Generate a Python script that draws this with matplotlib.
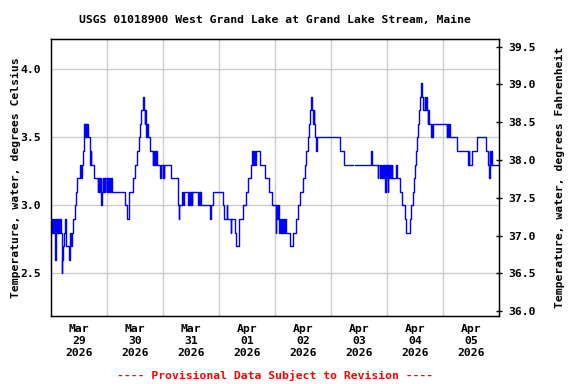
import numpy as np
import pandas as pd
import matplotlib
matplotlib.use("Agg")
import matplotlib.pyplot as plt
import matplotlib.dates as mdates

# hours since 2026-03-29 00:00 and water temperature (deg C)
hours = [0.0, 0.3, 0.6, 0.9, 1.2, 1.6, 1.9, 2.1, 2.3, 2.6, 2.8, 3.1, 3.3, 3.7, 3.9,
         4.4, 4.7, 4.9, 5.1, 5.4, 6.1, 6.4, 6.6, 7.7, 8.0, 8.3, 8.7, 9.0, 9.6,
         10.1, 10.6, 11.1, 12.6, 12.9, 13.1, 13.7, 14.1, 14.3, 14.5, 14.7, 14.9,
         15.2, 15.4, 15.6, 15.8, 16.6, 16.9, 17.0, 17.3, 18.4, 20.1, 20.3, 20.6,
         20.9, 21.3, 21.9, 22.1, 22.4, 22.6, 23.0, 23.3, 23.9, 24.1, 24.6, 24.9,
         25.1, 25.9, 26.1, 31.9, 32.6, 33.3, 33.4, 35.3, 36.2, 36.8, 37.5, 38.1,
         38.5, 39.4, 39.7, 40.1, 40.3, 40.5, 40.9, 41.1, 41.4, 42.3, 43.7, 43.9,
         44.2, 44.5, 44.7, 45.0, 45.3, 46.9, 47.1, 47.9, 48.1, 48.4, 48.6, 51.3,
         54.6, 54.8, 55.0, 56.3, 56.6, 56.8, 58.9, 59.2, 59.6, 59.9, 60.3, 60.6,
         63.0, 63.3, 63.7, 64.0, 64.4, 68.0, 68.6, 69.6, 73.9, 74.2, 75.3, 75.5,
         77.0, 77.2, 78.9, 79.3, 80.4, 80.7, 82.4, 83.4, 84.5, 85.6, 86.1, 86.6,
         86.9, 87.6, 88.0, 89.6, 91.9, 93.6, 94.9, 96.3, 96.5, 96.9, 97.2, 97.6,
         97.9, 98.2, 98.5, 98.8, 99.2, 99.5, 99.9, 100.3, 100.6, 102.6, 103.6,
         105.0, 105.9, 106.9, 108.0, 109.0, 109.4, 110.0, 110.4, 110.9, 111.6,
         111.9, 112.3, 112.5, 112.9, 113.3, 113.6, 113.9, 123.7, 125.4, 129.3,
         130.4, 137.3, 137.5, 140.1, 140.3, 141.2, 141.4, 142.0, 142.3, 142.6,
         142.9, 143.2, 143.4, 143.7, 144.0, 144.4, 144.6, 145.0, 145.3, 145.6,
         146.0, 146.3, 147.7, 148.4, 149.6, 150.3, 151.6, 152.1, 153.9, 154.4,
         155.1, 155.6, 155.9, 156.4, 157.0, 157.4, 157.9, 158.1, 158.6, 158.8,
         159.6, 160.1, 160.4, 160.7, 161.0, 161.4, 161.7, 162.1, 162.8, 163.1,
         163.4, 163.7, 169.6, 169.9, 170.3, 170.6, 170.9, 174.0, 178.7, 179.0,
         179.3, 180.6, 182.7, 186.3, 187.3, 187.8, 188.0, 188.3, 188.6, 188.9,
         191.5]
temps = [2.8, 2.9, 2.8, 2.9, 2.8, 2.9, 2.6, 2.7, 2.9, 2.8, 2.9, 2.8, 2.9, 2.8, 2.9,
         2.8, 2.5, 2.6, 2.7, 2.8, 2.9, 2.8, 2.7, 2.6, 2.7, 2.8, 2.7, 2.8, 2.9,
         3.0, 3.1, 3.2, 3.3, 3.2, 3.3, 3.4, 3.5, 3.6, 3.5, 3.6, 3.5,
         3.6, 3.5, 3.6, 3.5, 3.4, 3.3, 3.4, 3.3, 3.2, 3.1, 3.2, 3.1,
         3.2, 3.0, 3.1, 3.2, 3.1, 3.2, 3.1, 3.2, 3.1, 3.2, 3.1, 3.2,
         3.1, 3.2, 3.1, 3.0, 2.9, 3.0, 3.1, 3.2, 3.3, 3.4, 3.5, 3.6,
         3.7, 3.8, 3.7, 3.6, 3.7, 3.6, 3.5, 3.6, 3.5, 3.4, 3.3, 3.4,
         3.3, 3.4, 3.3, 3.4, 3.3, 3.2, 3.3, 3.2, 3.3, 3.2, 3.3, 3.2,
         3.0, 2.9, 3.0, 3.1, 3.0, 3.1, 3.0, 3.1, 3.0, 3.1, 3.0, 3.1,
         3.0, 3.1, 3.0, 3.1, 3.0, 2.9, 3.0, 3.1, 3.0, 2.9, 3.0, 2.9,
         2.8, 2.9, 2.8, 2.7, 2.8, 2.9, 3.0, 3.1, 3.2, 3.3, 3.4, 3.3,
         3.4, 3.3, 3.4, 3.3, 3.2, 3.1, 3.0, 2.8, 3.0, 2.9, 3.0, 2.9,
         2.8, 2.9, 2.8, 2.9, 2.8, 2.9, 2.8, 2.9, 2.8, 2.7, 2.8,
         2.9, 3.0, 3.1, 3.2, 3.3, 3.4, 3.5, 3.6, 3.7, 3.8,
         3.7, 3.6, 3.7, 3.6, 3.5, 3.4, 3.5, 3.4, 3.3, np.nan,
         3.3, 3.4, 3.3, 3.2, 3.3, 3.2, 3.3, 3.2, 3.3, 3.2,
         3.3, 3.1, 3.3, 3.2, 3.3, 3.1, 3.3, 3.2, 3.3, 3.2,
         3.3, 3.2, 3.3, 3.2, 3.1, 3.0, 2.9, 2.8, 2.9, 3.0,
         3.1, 3.2, 3.3, 3.4, 3.5, 3.6, 3.7, 3.8, 3.9, 3.8,
         3.7, 3.8, 3.7, 3.8, 3.7, 3.6, 3.7, 3.6, 3.5, 3.6,
         3.5, 3.6, 3.5, 3.6, 3.5, 3.6, 3.5, 3.4, 3.3, 3.4,
         3.3, 3.4, 3.5, 3.4, 3.3, 3.2, 3.4, 3.3, 3.4, 3.3,
         3.3]

start = pd.Timestamp("2026-03-29 00:00")
day_labels = ["Mar\n29\n2026", "Mar\n30\n2026", "Mar\n31\n2026", "Apr\n01\n2026",
              "Apr\n02\n2026", "Apr\n03\n2026", "Apr\n04\n2026", "Apr\n05\n2026"]
c_ticks = [2.5, 3.0, 3.5, 4.0]
f_ticks = [36.0, 36.5, 37.0, 37.5, 38.0, 38.5, 39.0, 39.5]

title = "USGS 01018900 West Grand Lake at Grand Lake Stream, Maine"
left_label = "Temperature, water, degrees Celsius"
right_label = "Temperature, water, degrees Fahrenheit"
footer = "---- Provisional Data Subject to Revision ----"

plt.rcParams["font.family"] = ["DejaVu Sans Mono"]
plt.rcParams["font.weight"] = "bold"
FS = 8.2

times = [start + pd.Timedelta(hours=h) for h in hours]

fig = plt.figure(figsize=(5.76, 3.84), dpi=100)
ax = fig.add_axes([51/576, 1-316/384, 448/576, 277/384])

ax.plot(times, temps, color="#0000ff", lw=1.0, drawstyle="steps-post")

ylo, yhi = 2.186, 4.223
ax.set_ylim(ylo, yhi)
ax.set_xlim(start, start + pd.Timedelta(days=8))

ax.set_yticks(c_ticks)
ax.set_yticklabels([f"{v:.1f}" for v in c_ticks], fontsize=FS, fontweight="bold")
ax.tick_params(axis="y", length=0, pad=7)

noon = [start + pd.Timedelta(hours=12 + 24*i) for i in range(8)]
mid = [start + pd.Timedelta(days=i) for i in range(1, 8)]
ax.set_xticks(noon)
ax.set_xticklabels(day_labels, fontsize=FS, fontweight="bold", linespacing=1.25)
ax.set_xticks(mid, minor=True)
ax.tick_params(axis="x", which="both", length=0, pad=6)

ax.grid(True, axis="y", which="major", color="#cccccc", lw=1)
ax.grid(True, axis="x", which="minor", color="#cccccc", lw=1)
ax.grid(False, axis="x", which="major")
ax.set_axisbelow(True)
for s in ax.spines.values():
    s.set_color("black")
    s.set_linewidth(1)

ax.set_ylabel(left_label, fontsize=FS, fontweight="bold", labelpad=0)

ax2 = ax.twinx()
ax2.set_ylim(ylo*1.8+32, yhi*1.8+32)
ax2.set_yticks(f_ticks)
ax2.set_yticklabels([f"{v:.1f}" for v in f_ticks], fontsize=FS, fontweight="bold")
ax2.tick_params(axis="y", direction="inout", length=5, width=1, pad=4)
ax2.set_ylabel(right_label, fontsize=FS, fontweight="bold", labelpad=14)

fig.text(0.5*(51+499)/576, 1-20/384, title, ha="center", va="center",
         fontsize=FS, fontweight="bold")
fig.text(0.5*(51+499)/576, 1-375/384, footer, ha="center", va="center",
         fontsize=FS, fontweight="bold", color="#ff0000")

fig.savefig("out.png", dpi=100, facecolor="white")
